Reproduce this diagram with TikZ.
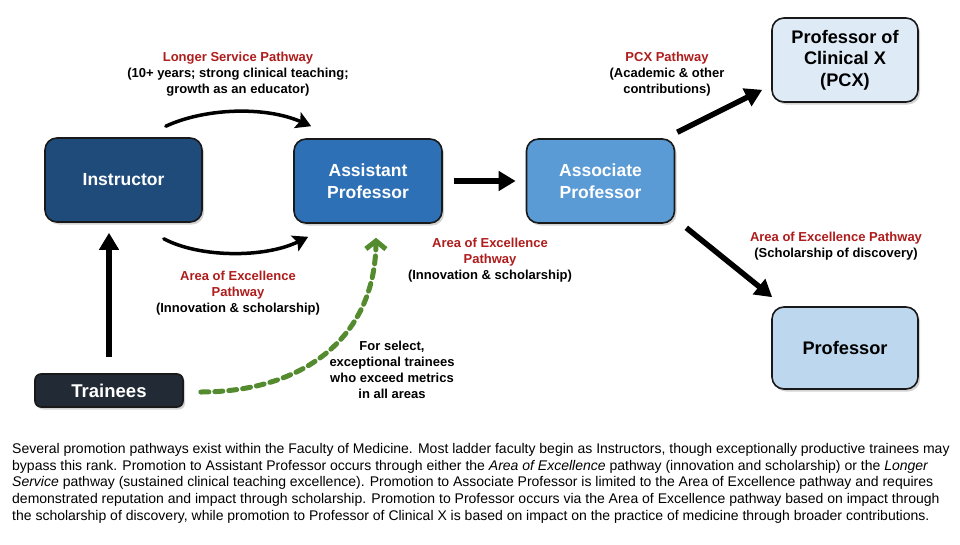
\documentclass[tikz,border=0pt]{standalone}
\usepackage{fontspec}
\setmainfont{Liberation Sans}
\usetikzlibrary{arrows.meta,shadows,calc}
\definecolor{cInstr}{HTML}{1F4B7A}
\definecolor{cAsst}{HTML}{2E70B6}
\definecolor{cAssoc}{HTML}{5B9BD5}
\definecolor{cPCX}{HTML}{DEEBF7}
\definecolor{cProf}{HTML}{BDD7EE}
\definecolor{cTrain}{HTML}{222A35}
\definecolor{cRed}{HTML}{AE1C1C}
\definecolor{cGreen}{HTML}{548B2E}
\tikzset{
  rank/.style={draw=black!90, line width=1.6pt, rounded corners=12pt, minimum width=148pt, minimum height=84pt,
    align=center, font=\fontsize{17.5}{22}\selectfont\bfseries,
    drop shadow={opacity=0.35, shadow xshift=2pt, shadow yshift=-2.5pt}},
  lbl/.style={align=center, font=\fontsize{13}{16}\selectfont\bfseries},
  bigarrow/.style={line width=5.5pt, -{Triangle[length=17pt,width=19pt]}},
  curvearrow/.style={line width=3.5pt, line cap=round, -{Stealth[length=15pt,width=17pt,inset=3pt]}},
  greenarrow/.style={cGreen, line width=5pt, dash pattern=on 8pt off 6pt, line cap=round,
    -{Straight Barb[length=8pt,width=20pt,line width=5pt]}},
}
\begin{document}
\begin{tikzpicture}[x=1pt,y=1pt]
\useasboundingbox (0,0) rectangle (960,-544);
% nodes
\node[rank, fill=cInstr, text=white, minimum width=157pt] (instructor) at (123.5,-180) {Instructor};
\node[rank, fill=cAsst, text=white] (assistant) at (368,-181) {Assistant\\Professor};
\node[rank, fill=cAssoc, text=white] (associate) at (600.5,-181) {Associate\\Professor};
\node[rank, fill=cPCX, text=black, minimum width=146pt, font=\fontsize{18.2}{21.5}\selectfont\bfseries] (pcx) at (845,-60) {Professor of\\Clinical X\\(PCX)};
\node[rank, fill=cProf, text=black, minimum width=146pt, minimum height=82pt, font=\fontsize{18.2}{21.5}\selectfont\bfseries] (professor) at (845,-348) {Professor};
\node[rank, fill=cTrain, text=white, rounded corners=6pt, minimum width=148pt, minimum height=33pt, font=\fontsize{18.5}{22}\selectfont\bfseries] (trainees) at (109,-390.5) {Trainees};
% labels
\node[lbl] (lsp) at (238,-74) {\textcolor{cRed}{Longer Service Pathway}\\(10+ years; strong clinical teaching;\\growth as an educator)};
\node[lbl] (aoe1) at (238,-293) {\textcolor{cRed}{Area of Excellence}\\\textcolor{cRed}{Pathway}\\(Innovation \& scholarship)};
\node[lbl] (aoe2) at (490,-260) {\textcolor{cRed}{Area of Excellence}\\\textcolor{cRed}{Pathway}\\(Innovation \& scholarship)};
\node[lbl] (pcxl) at (667,-74) {\textcolor{cRed}{PCX Pathway}\\(Academic \& other\\contributions)};
\node[lbl] (aoe3) at (836,-246) {\textcolor{cRed}{Area of Excellence Pathway}\\(Scholarship of discovery)};
\node[lbl] (sel) at (392,-369.5) {For select,\\exceptional trainees\\who exceed metrics\\in all areas};
% arrows
\draw[bigarrow, shorten <=16pt, shorten >=10pt] (trainees.north) -- (trainees.north |- instructor.south);
\draw[curvearrow] ($(instructor.north east)+(-37,11)$) .. controls (205,-108) and (265,-106) .. ($(assistant.north west)+(18,12)$);
\draw[curvearrow] ($(instructor.south east)+(-39,-16)$) .. controls (200,-258) and (265,-258) .. ($(assistant.south west)+(15,-13)$);
\draw[bigarrow] ($(assistant.east)+(11,0)$) -- ($(associate.west)+(-10,0)$);
\draw[bigarrow] ($(associate.north east)+(2,6)$) -- ($(pcx.south west)+(-9,13)$);
\draw[bigarrow] ($(associate.south east)+(11,-4)$) -- ($(professor.north west)+(1,9)$);
\draw[greenarrow] ($(trainees.east)+(17,-1.5)$) .. controls (300,-392) and (375,-340) .. ($(assistant.south)+(8,-14)$);
% caption
\node[anchor=north west, align=left, inner sep=0pt, font=\fontsize{14}{16.8}\selectfont] (caption) at (12,-443)
{Several promotion pathways exist within the Faculty of Medicine. Most ladder faculty begin as Instructors, though exceptionally productive trainees may\\
bypass this rank. Promotion to Assistant Professor occurs through either the \textit{Area of Excellence} pathway (innovation and scholarship) or the \textit{Longer}\\
\textit{Service} pathway (sustained clinical teaching excellence). Promotion to Associate Professor is limited to the Area of Excellence pathway and requires\\
demonstrated reputation and impact through scholarship. Promotion to Professor occurs via the Area of Excellence pathway based on impact through\\
the scholarship of discovery, while promotion to Professor of Clinical X is based on impact on the practice of medicine through broader contributions.};
\end{tikzpicture}
\end{document}
